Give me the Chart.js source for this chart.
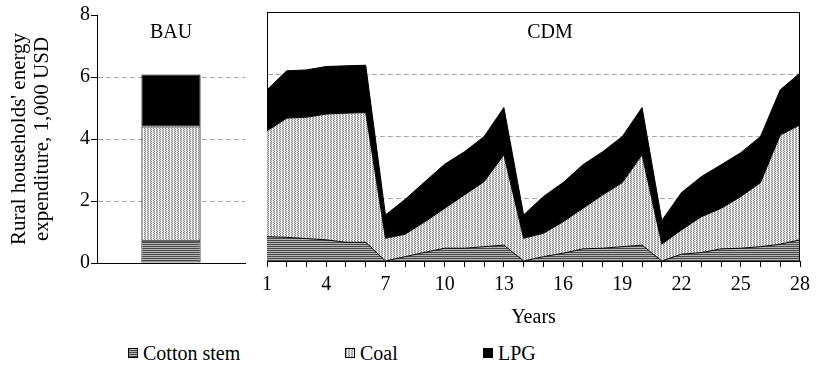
<!DOCTYPE html>
<html>
<head>
<meta charset="utf-8">
<script src="https://cdn.jsdelivr.net/npm/chart.js@4.4.1/dist/chart.umd.min.js"></script>
<style>
  body { margin: 0; background: #fff; font-family: 'Liberation Serif', serif; }
  #wrap { position: relative; width: 816px; height: 365px; color: #000; }
  #bau { position: absolute; left: 0; top: 0; }
  #cdm { position: absolute; left: 255px; top: 0; }
  .key { position: absolute; top: 343px; font-family: 'Liberation Serif', serif; font-size: 20px; line-height: 20px; display: flex; align-items: center; white-space: nowrap; }
  .key canvas { margin-right: 5px; }
</style>
</head>
<body>
<div id="wrap">
  <canvas id="bau" width="255" height="300"></canvas>
  <canvas id="cdm" width="561" height="335"></canvas>
  <div class="key" style="left:128px"><canvas id="k0" width="10" height="10"></canvas><span>Cotton stem</span></div>
  <div class="key" style="left:345px"><canvas id="k1" width="10" height="10"></canvas><span>Coal</span></div>
  <div class="key" style="left:483px"><canvas id="k2" width="10" height="10"></canvas><span>LPG</span></div>
</div>
<script>
// expenditure, 1,000 USD
const seriesNames = ["Cotton stem", "Coal", "LPG"];

const bauCotton = [0.72];
const bauCoal = [3.68];
const bauLpg = [1.68];

const years = ["1","2","3","4","5","6","7","8","9","10","11","12","13","14",
               "15","16","17","18","19","20","21","22","23","24","25","26","27","28"];
const yearTicks = ["1","4","7","10","13","16","19","22","25","28"];
const yTicks = [0, 2, 4, 6, 8];

const cdmCotton = [0.78,0.76,0.72,0.68,0.60,0.60,0.00,0.14,0.28,0.41,0.41,0.46,0.51,0.00,
                   0.14,0.25,0.39,0.41,0.46,0.51,0.00,0.22,0.27,0.39,0.41,0.46,0.54,0.68];
const cdmCoal   = [3.40,3.83,3.90,4.04,4.15,4.17,0.73,0.72,0.98,1.28,1.71,2.09,2.90,0.73,
                   0.75,1.01,1.30,1.71,2.06,2.90,0.54,0.78,1.15,1.30,1.66,2.06,3.51,3.69];
const cdmLpg    = [1.32,1.52,1.52,1.53,1.52,1.52,0.75,1.12,1.29,1.42,1.39,1.45,1.52,0.75,
                   1.18,1.26,1.40,1.39,1.48,1.52,0.76,1.20,1.29,1.40,1.41,1.48,1.45,1.67];

const font = { family: "'Liberation Serif', 'Times New Roman', serif", size: 20 };

// tiny pixel tiles used as fills
function tile(rows) {
  const c = document.createElement("canvas");
  c.width = rows[0].length;
  c.height = rows.length;
  const g = c.getContext("2d");
  rows.forEach((r, y) => r.forEach((col, x) => {
    g.fillStyle = col;
    g.fillRect(x, y, 1, 1);
  }));
  return g.createPattern(c, "repeat");
}
const stripes = tile([["#4a4a4a"], ["#b4b4b4"]]);
const dots = tile([["#8c8c8c", "#d4d4d4", "#f4f4f4"], ["#d4d4d4", "#8c8c8c", "#f4f4f4"]]);
const fills = [stripes, dots, "#000"];

// legend swatches
fills.forEach((f, i) => {
  const g = document.getElementById("k" + i).getContext("2d");
  g.fillStyle = f;
  g.fillRect(0, 0, 10, 10);
  g.strokeStyle = "#000";
  g.strokeRect(0.5, 0.5, 9, 9);
});

const gridColor = (ctx) => (ctx.tick && (ctx.tick.value === 0 || ctx.tick.value === 8)) ? "rgba(0,0,0,0)" : "#a6a6a6";

function panelText(text, getX, dy) {
  return {
    id: "panelText",
    afterDraw(chart) {
      const ctx = chart.ctx;
      ctx.save();
      ctx.font = font.size + "px " + font.family;
      ctx.fillStyle = "#000";
      ctx.textAlign = "center";
      ctx.textBaseline = "middle";
      ctx.fillText(text, getX(chart), chart.chartArea.top + dy);
      ctx.restore();
    }
  };
}

// left panel: single stacked bar
new Chart(document.getElementById("bau"), {
  type: "bar",
  data: {
    labels: ["BAU"],
    datasets: [
      { label: seriesNames[0], data: bauCotton, backgroundColor: fills[0] },
      { label: seriesNames[1], data: bauCoal, backgroundColor: fills[1] },
      { label: seriesNames[2], data: bauLpg, backgroundColor: fills[2] }
    ]
  },
  options: {
    responsive: false,
    animation: false,
    layout: { padding: { top: 15, right: 10, left: 0, bottom: 0 } },
    datasets: { bar: { borderColor: "#000", borderWidth: 1, borderSkipped: false, barPercentage: 0.4, categoryPercentage: 1 } },
    plugins: { legend: { display: false }, tooltip: { enabled: false } },
    scales: {
      x: {
        stacked: true,
        ticks: { display: false },
        grid: { display: false },
        border: { color: "#000" },
        afterFit: (s) => { s.height = 37; }
      },
      y: {
        stacked: true,
        min: 0,
        max: 8,
        afterBuildTicks: (s) => { s.ticks = yTicks.map((v) => ({ value: v })); },
        ticks: { font: Object.assign({ lineHeight: 1 }, font), color: "#000", padding: 1 },
        grid: { color: gridColor, tickColor: "#000", tickLength: 6, tickBorderDash: [] },
        border: { color: "#000", dash: [5, 3] },
        title: {
          display: true,
          text: ["Rural households' energy", "expenditure, 1,000 USD"],
          font: { family: font.family, size: 21, lineHeight: 1.1 },
          color: "#000",
          padding: { top: 8, bottom: 0 }
        },
        afterFit: (s) => { s.width = 97; }
      }
    }
  },
  plugins: [panelText("BAU", (c) => c.scales.x.getPixelForValue(0), 18)]
});

// right panel: stacked areas over the years
const frame = {
  id: "frame",
  afterDraw(chart) {
    const { left, top, right, bottom } = chart.chartArea;
    const ctx = chart.ctx;
    ctx.save();
    ctx.strokeStyle = "#000";
    ctx.lineWidth = 1;
    ctx.beginPath();
    ctx.moveTo(left, top + 0.5);
    ctx.lineTo(right - 0.5, top + 0.5);
    ctx.lineTo(right - 0.5, bottom);
    ctx.stroke();
    ctx.restore();
  }
};

new Chart(document.getElementById("cdm"), {
  type: "line",
  data: {
    labels: years,
    datasets: [
      { label: seriesNames[0], data: cdmCotton, backgroundColor: fills[0], fill: "origin" },
      { label: seriesNames[1], data: cdmCoal, backgroundColor: fills[1], fill: "-1" },
      { label: seriesNames[2], data: cdmLpg, backgroundColor: fills[2], fill: "-1" }
    ]
  },
  options: {
    responsive: false,
    animation: false,
    layout: { padding: { top: 12, right: 16, left: 0, bottom: 0 } },
    elements: {
      line: { tension: 0, borderColor: "#000", borderWidth: 1 },
      point: { radius: 0 }
    },
    plugins: { legend: { display: false }, tooltip: { enabled: false } },
    scales: {
      x: {
        ticks: {
          autoSkip: false,
          maxRotation: 0,
          font: font,
          color: "#000",
          padding: 6,
          callback: (v, i) => (yearTicks.includes(years[i]) ? years[i] : "")
        },
        grid: { drawOnChartArea: false, tickColor: "#000", tickLength: 6, tickBorderDash: [] },
        border: { color: "#000" },
        title: { display: true, text: "Years", font: font, color: "#000", padding: { top: 0, bottom: 5 } },
        afterFit: (s) => { s.height = 74; }
      },
      y: {
        stacked: true,
        min: 0,
        max: 8,
        afterBuildTicks: (s) => { s.ticks = yTicks.map((v) => ({ value: v })); },
        ticks: { display: false },
        grid: { color: gridColor, drawTicks: false },
        border: { color: "#000", dash: [5, 3] },
        afterFit: (s) => { s.width = 12; }
      }
    }
  },
  plugins: [frame, panelText("CDM", (c) => c.chartArea.left + 0.531 * c.chartArea.width, 21)]
});
</script>
</body>
</html>
